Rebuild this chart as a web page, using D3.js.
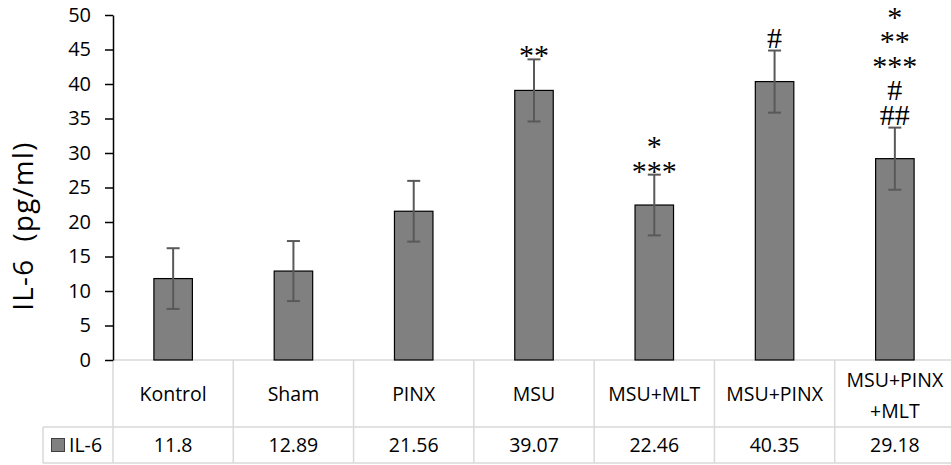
<!DOCTYPE html>
<html>
<head>
<meta charset="utf-8">
<script src="https://cdn.jsdelivr.net/npm/d3@7"></script>
<style>
  html, body { margin: 0; padding: 0; background: #fff; }
  svg { display: block; }
  .sans { font-family: "Open Sans", sans-serif; fill: #000; }
  .serif { font-family: "Liberation Serif", "Times New Roman", serif; fill: #000; }
</style>
</head>
<body>
<svg id="chart" width="951" height="465"></svg>
<script>
// IL-6 levels per group, with error bars and significance marks
const categories = ["Kontrol", "Sham", "PINX", "MSU", "MSU+MLT", "MSU+PINX", "MSU+PINX+MLT"];
const values = [11.8, 12.89, 21.56, 39.07, 22.46, 40.35, 29.18];
const errors = [4.4, 4.35, 4.4, 4.5, 4.4, 4.5, 4.5];
const marks = [[], [], [], ["**"], ["*", "***"], ["#"], ["*", "**", "***", "#", "##"]];
const yTicks = [0, 5, 10, 15, 20, 25, 30, 35, 40, 45, 50];
const seriesName = "IL-6";
const yTitle = "IL-6  (pg/ml)";

const svg = d3.select("#chart");

const plotLeft = 113, plotRight = 955, plotTop = 15, plotBottom = 360;
const headerBottom = 427, tableBottom = 463, legendLeft = 43;
const gridColor = "#d9d9d9";

const x = d3.scaleBand().domain(categories).range([plotLeft, plotRight]).paddingInner(0).paddingOuter(0);
const y = d3.scaleLinear().domain([0, 50]).range([plotBottom, plotTop]);
const barW = x.bandwidth() * 0.32;

// data table grid
const grid = svg.append("g").attr("stroke", gridColor).attr("stroke-width", 1.5).attr("fill", "none");
grid.append("line").attr("x1", plotLeft).attr("x2", plotRight).attr("y1", plotBottom).attr("y2", plotBottom);
grid.append("line").attr("x1", legendLeft).attr("x2", plotRight).attr("y1", headerBottom).attr("y2", headerBottom);
grid.append("line").attr("x1", legendLeft).attr("x2", plotRight).attr("y1", tableBottom).attr("y2", tableBottom);
grid.append("line").attr("x1", legendLeft).attr("x2", legendLeft).attr("y1", headerBottom).attr("y2", tableBottom);
grid.selectAll("line.col")
  .data(categories)
  .join("line")
  .attr("class", "col")
  .attr("x1", d => x(d)).attr("x2", d => x(d))
  .attr("y1", plotBottom).attr("y2", tableBottom);

// header row: category names, wrapped before the last "+" when too wide
const headers = svg.append("g").attr("class", "sans").attr("font-size", 19.5).attr("text-anchor", "middle");
categories.forEach(c => {
  const cx = x(c) + x.bandwidth() / 2;
  const t = headers.append("text").attr("x", cx).attr("y", 401).text(c);
  if (t.node().getComputedTextLength() > x.bandwidth() - 8) {
    const k = c.lastIndexOf("+");
    t.text(null).attr("y", 387);
    t.append("tspan").attr("x", cx).text(c.slice(0, k));
    t.append("tspan").attr("x", cx).attr("dy", 31).text(c.slice(k));
  }
});

// value row
svg.append("g").attr("class", "sans").attr("font-size", 19.5).attr("text-anchor", "middle")
  .selectAll("text")
  .data(values)
  .join("text")
  .attr("x", (d, i) => x(categories[i]) + x.bandwidth() / 2)
  .attr("y", 452)
  .text(d => String(d));

// legend cell
svg.append("rect")
  .attr("x", 51.5).attr("y", 438.5).attr("width", 13).attr("height", 13)
  .attr("fill", "#808080").attr("stroke", "#404040").attr("stroke-width", 1);
svg.append("text").attr("class", "sans").attr("font-size", 19.5)
  .attr("x", 69).attr("y", 452).text(seriesName);

// bars
svg.append("g")
  .selectAll("rect")
  .data(values)
  .join("rect")
  .attr("x", (d, i) => x(categories[i]) + (x.bandwidth() - barW) / 2)
  .attr("y", d => y(d))
  .attr("width", barW)
  .attr("height", d => y(0) - y(d))
  .attr("fill", "#808080")
  .attr("stroke", "#000")
  .attr("stroke-width", 1.2);

// error bars
const eb = svg.append("g").attr("stroke", "#595959").attr("stroke-width", 2).attr("fill", "none");
values.forEach((v, i) => {
  const cx = x(categories[i]) + x.bandwidth() / 2;
  const top = y(v + errors[i]), bot = y(v - errors[i]);
  eb.append("line").attr("x1", cx).attr("x2", cx).attr("y1", top).attr("y2", bot);
  eb.append("line").attr("x1", cx - 6.5).attr("x2", cx + 6.5).attr("y1", top).attr("y2", top);
  eb.append("line").attr("x1", cx - 6.5).attr("x2", cx + 6.5).attr("y1", bot).attr("y2", bot);
});

// significance marks stacked above each error bar (one text per stack)
const sig = svg.append("g").attr("class", "serif").attr("font-size", 30).attr("text-anchor", "middle");
const lineGap = 24.5;
marks.forEach((lines, i) => {
  if (!lines.length) return;
  const cx = x(categories[i]) + x.bandwidth() / 2;
  const top = y(values[i] + errors[i]);
  const last = lines[lines.length - 1];
  const base = top + (last.includes("*") ? 6 : -3);
  const t = sig.append("text").attr("x", cx).attr("y", base - (lines.length - 1) * lineGap);
  lines.forEach((s, j) => {
    t.append("tspan").attr("x", cx).attr("dy", j === 0 ? 0 : lineGap).text(s);
  });
});

// y axis
const yAxis = d3.axisLeft(y).tickValues(yTicks).tickSize(8).tickSizeOuter(0).tickPadding(14);
const ya = svg.append("g").attr("transform", `translate(${plotLeft},0)`).call(yAxis);
ya.select(".domain").attr("stroke", "#000").attr("stroke-width", 1.5);
ya.selectAll(".tick line").attr("stroke", "#000").attr("stroke-width", 1.5);
ya.selectAll(".tick text")
  .attr("font-family", "\"Open Sans\", sans-serif")
  .attr("font-size", 20)
  .attr("fill", "#000");

// y axis title
svg.append("text")
  .attr("class", "sans")
  .attr("font-size", 27.5)
  .attr("letter-spacing", 1.4)
  .attr("text-anchor", "middle")
  .attr("transform", "translate(33,226) rotate(-90)")
  .style("white-space", "pre")
  .text(yTitle);
</script>
</body>
</html>
